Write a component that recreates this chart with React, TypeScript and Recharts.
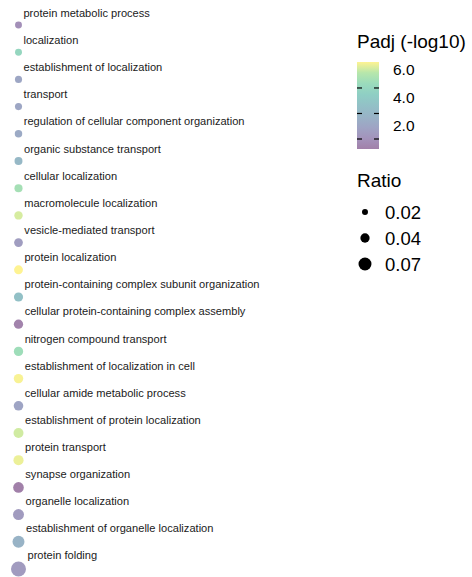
import React from 'react';
import { ScatterChart, Scatter, XAxis, YAxis } from 'recharts';

// GO biological-process terms, listed top to bottom
const terms = [
  'protein metabolic process',
  'localization',
  'establishment of localization',
  'transport',
  'regulation of cellular component organization',
  'organic substance transport',
  'cellular localization',
  'macromolecule localization',
  'vesicle-mediated transport',
  'protein localization',
  'protein-containing complex subunit organization',
  'cellular protein-containing complex assembly',
  'nitrogen compound transport',
  'establishment of localization in cell',
  'cellular amide metabolic process',
  'establishment of protein localization',
  'protein transport',
  'synapse organization',
  'organelle localization',
  'establishment of organelle localization',
  'protein folding',
];

// -log10 adjusted p-value per term
const padjLog10 = [
  0.97, 4.69, 2.02, 2.0, 2.21, 2.95, 5.31, 6.12, 1.59, 6.55, 3.45,
  0.47, 5.12, 6.49, 1.9, 6.05, 6.36, 0.35, 1.47, 2.64, 1.47,
];

// gene ratio per term
const ratios = [
  0.025, 0.025, 0.026, 0.026, 0.028, 0.031, 0.032, 0.034, 0.036, 0.037, 0.039,
  0.04, 0.04, 0.041, 0.042, 0.045, 0.046, 0.05, 0.053, 0.061, 0.09,
];

const padjBreaks = [2, 4, 6];
const ratioBreaks = [0.02, 0.04, 0.07];
const PADJ_MIN = 0.35;
const PADJ_MAX = 6.55;

const VIRIDIS = [
  '#440154', '#482878', '#3e4989', '#31688e', '#26828e',
  '#1f9e89', '#35b779', '#6ece58', '#fde725',
];
const FILL_ALPHA = 0.5;
const FONT = '"Liberation Sans", Arial, sans-serif';

const hexToRgb = (h: string) => [
  parseInt(h.slice(1, 3), 16),
  parseInt(h.slice(3, 5), 16),
  parseInt(h.slice(5, 7), 16),
];

function viridis(t: number): string {
  const c = Math.max(0, Math.min(1, t)) * (VIRIDIS.length - 1);
  const i = Math.min(Math.floor(c), VIRIDIS.length - 2);
  const f = c - i;
  const a = hexToRgb(VIRIDIS[i]);
  const b = hexToRgb(VIRIDIS[i + 1]);
  const m = a.map((v, k) => Math.round(v + (b[k] - v) * f));
  return `rgb(${m[0]},${m[1]},${m[2]})`;
}

const padjToT = (v: number) => (v - PADJ_MIN) / (PADJ_MAX - PADJ_MIN);
// area-proportional size scale
const ratioToRadius = (r: number) => (-2 + 56.5 * Math.sqrt(r)) / 2;

const data = terms.map((term, i) => ({
  term,
  rank: i + 1,
  pos: 1,
  padj: padjLog10[i],
  ratio: ratios[i],
}));

const TermPoint = (props: any) => {
  const { cx, cy, payload } = props;
  const r = ratioToRadius(payload.ratio);
  return (
    <g>
      <circle cx={cx} cy={cy} r={r} fill={viridis(padjToT(payload.padj))} fillOpacity={FILL_ALPHA} />
      <text
        x={cx + r + 1.5}
        y={cy - r * 0.5 - 6.5}
        fontFamily={FONT}
        fontSize={11.1}
        fill="#1a1a1a"
      >
        {payload.term}
      </text>
    </g>
  );
};

// legend geometry
const BAR_X = 357;
const BAR_W = 22;
const BAR_TOP = 62;
const BAR_BOTTOM = 149;
const barY = (v: number) => BAR_TOP + ((PADJ_MAX - v) / (PADJ_MAX - PADJ_MIN)) * (BAR_BOTTOM - BAR_TOP);
const tickY = (v: number) => 24.6 + 0.909 * barY(v);

const Legends = () => (
  <svg
    width={472}
    height={577}
    style={{ position: 'absolute', left: 0, top: 0, pointerEvents: 'none' }}
  >
    <defs>
      <linearGradient id="padjGrad" x1="0" y1="1" x2="0" y2="0">
        {VIRIDIS.map((c, i) => (
          <stop key={i} offset={i / (VIRIDIS.length - 1)} stopColor={c} stopOpacity={FILL_ALPHA} />
        ))}
      </linearGradient>
    </defs>
    <text x={357} y={48} fontFamily={FONT} fontSize={19} fill="#000">Padj (-log10)</text>
    <rect x={BAR_X} y={BAR_TOP} width={BAR_W} height={BAR_BOTTOM - BAR_TOP} fill="url(#padjGrad)" />
    {padjBreaks.map((b) => (
      <g key={b}>
        <text x={393} y={barY(b) + 5.5} fontFamily={FONT} fontSize={15.5} fill="#000">
          {b.toFixed(1)}
        </text>
        <line x1={BAR_X} x2={BAR_X + 5} y1={tickY(b)} y2={tickY(b)} stroke="#000" strokeWidth={1.2} />
        <line x1={BAR_X + BAR_W - 5} x2={BAR_X + BAR_W} y1={tickY(b)} y2={tickY(b)} stroke="#000" strokeWidth={1.2} />
      </g>
    ))}
    <text x={357} y={187} fontFamily={FONT} fontSize={19} fill="#000">Ratio</text>
    {ratioBreaks.map((b, i) => (
      <g key={b}>
        <circle cx={365} cy={212 + i * 26} r={ratioToRadius(b)} fill="#000" />
        <text x={385} y={212 + i * 26 + 6.5} fontFamily={FONT} fontSize={18.5} fill="#000">
          {b.toFixed(2)}
        </text>
      </g>
    ))}
  </svg>
);

export default function App() {
  return (
    <div style={{ position: 'absolute', left: 0, top: 0, width: 472, height: 577, background: '#fff' }}>
      <ScatterChart width={472} height={577} margin={{ top: 25, right: 443, bottom: 8, left: 8 }}>
        <XAxis type="number" dataKey="pos" domain={[0, 2]} hide />
        <YAxis type="number" dataKey="rank" domain={[1, 21]} reversed hide />
        <Scatter data={data} shape={<TermPoint />} isAnimationActive={false} />
      </ScatterChart>
      <Legends />
    </div>
  );
}
